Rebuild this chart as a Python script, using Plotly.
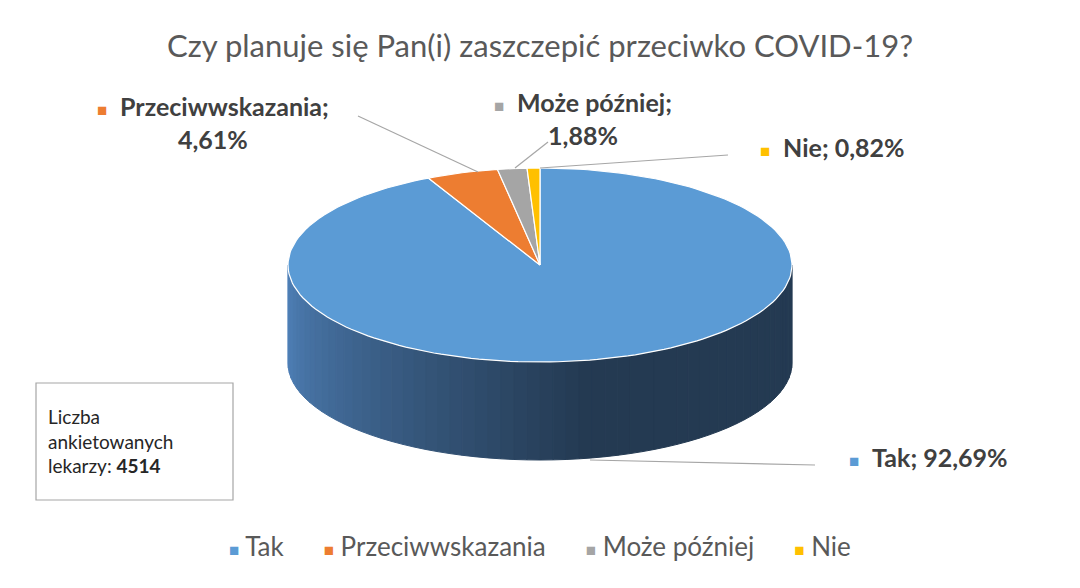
import numpy as np
import plotly.graph_objects as go

categories = ["Tak", "Przeciwwskazania", "Może później", "Nie"]
values = [92.69, 4.61, 1.88, 0.82]
colors = ["#5b9bd5", "#ed7d31", "#a5a5a5", "#ffc000"]
respondents = 4514

# geometry of the pseudo-3D pie (pixel units)
cx, cy, rx, ry, depth = 540, 265, 252, 97, 98

def pt(theta):
    return cx + rx * np.sin(theta), cy - ry * np.cos(theta)

fig = go.Figure()

# side wall, drawn in strips for a gradient
side_c0 = np.array([80, 130, 186])
side_c1 = np.array([36, 58, 82])
n = 60
ths = np.linspace(np.pi / 2, 3 * np.pi / 2, n + 1)[::-1]  # left -> right along front
for i in range(n):
    a, b = ths[i], ths[i + 1]
    t = np.linspace(a, b, 4)
    xs, ys = pt(t)
    px = list(xs) + list(xs[::-1]) + [xs[0]]
    py = list(ys) + list(ys[::-1] + depth) + [ys[0]]
    f = min(1, i / (n * 0.55))
    c = (side_c0 * (1 - f) + side_c1 * f).astype(int)
    col = f"rgb({c[0]},{c[1]},{c[2]})"
    fig.add_trace(go.Scatter(x=px, y=py, fill="toself", fillcolor=col, mode="lines",
                             line=dict(color=col, width=1), hoverinfo="skip", showlegend=False))

# top slices, clockwise from 12 o'clock
start = 0.0
total = sum(values)
for cat, v, col in zip(categories, values, colors):
    end = start + 2 * np.pi * v / total
    t = np.linspace(start, end, max(3, int(200 * v / total)))
    xs, ys = pt(t)
    fig.add_trace(go.Scatter(x=[cx] + list(xs) + [cx], y=[cy] + list(ys) + [cy], fill="toself",
                             fillcolor=col, mode="lines", line=dict(color="white", width=1.2),
                             name=cat, hoverinfo="name", showlegend=False))
    start = end

txt = "#404040"
def lab(x, y, text, col, align="left"):
    fig.add_annotation(x=x, y=y, xref="x", yref="y", showarrow=False, align=align,
                       text=f"<span style='color:{col};font-size:17px'>■</span>  <b>{text}</b>",
                       font=dict(size=25, color=txt, family="Lato"))

lab(213, 122, "Przeciwwskazania;<br>4,61%", colors[1], "center")
lab(583, 118, "Może później;<br>1,88%", colors[2], "center")
lab(832, 147, "Nie; 0,82%", colors[3])
lab(928, 457, "Tak; 92,69%", colors[0])

for x0, y0, x1, y1 in [(358, 116, 478, 172), (548, 142, 515, 168), (728, 155, 540, 168), (815, 465, 590, 460)]:
    fig.add_shape(type="line", x0=x0, y0=y0, x1=x1, y1=y1, line=dict(color="#a6a6a6", width=1.2))

fig.add_shape(type="rect", x0=36, y0=383, x1=233, y1=500, line=dict(color="#a6a6a6", width=1.2))
fig.add_annotation(x=46, y=441, xref="x", yref="y", xanchor="left", showarrow=False, align="left",
                   text=f"Liczba<br>ankietowanych<br>lekarzy: <b>{respondents}</b>",
                   font=dict(size=19, color="#262626", family="Lato"))

legend_txt = "      ".join(f"<span style='color:{c};font-size:17px'>■</span> {k}" for k, c in zip(categories, colors))
fig.add_annotation(x=540, y=546, xref="x", yref="y", showarrow=False, text=legend_txt,
                   font=dict(size=26, color="#595959", family="Lato"))

fig.add_annotation(x=540, y=45, xref="x", yref="y", showarrow=False,
                   text="Czy planuje się Pan(i) zaszczepić przeciwko COVID-19?",
                   font=dict(size=31, color="#595959", family="Lato"))

# offset ranges by the page's 8px body margin
fig.update_layout(width=1080, height=588, margin=dict(l=0, r=0, t=0, b=0),
                  plot_bgcolor="white", paper_bgcolor="white",
                  xaxis=dict(range=[8, 1088], visible=False, fixedrange=True),
                  yaxis=dict(range=[596, 8], visible=False, fixedrange=True))
fig.write_html("out.html")
